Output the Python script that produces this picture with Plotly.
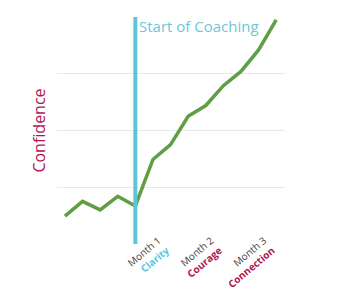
import plotly.graph_objects as go

steps = list(range(13))
confidence = [0.49, 0.75, 0.6, 0.84, 0.67, 1.49, 1.75, 2.25, 2.44, 2.79, 3.04, 3.42, 3.95]
tick_positions = [4, 7, 10]
tick_months = ["Month 1", "Month 2", "Month 3"]
tick_words = ["Clarity", "Courage", "Connection"]
tick_word_colors = ["#5BC5DB", "#B0154F", "#B0154F"]
coaching_start = 4

ticktext = [f"{m}<br><b><span style='color:{c}'>{w}</span></b>"
            for m, w, c in zip(tick_months, tick_words, tick_word_colors)]

fig = go.Figure()
fig.add_trace(go.Scatter(x=steps, y=confidence, mode="lines",
                         line=dict(color="#5E9E45", width=3.5), showlegend=False))

fig.add_shape(type="line", x0=coaching_start, x1=coaching_start, y0=0, y1=4,
              xref="x", yref="y", line=dict(color="#5BC5DB", width=4))
fig.add_annotation(x=coaching_start, y=4, xref="x", yref="y", text="Start of Coaching",
                   showarrow=False, xanchor="left", yanchor="top", xshift=2, yshift=3,
                   font=dict(color="#6EC6D8", size=15, family="Open Sans"))

fig.update_layout(
    width=341, height=290,
    margin=dict(l=57, r=56, t=17, b=46, autoexpand=False),
    paper_bgcolor="white", plot_bgcolor="white",
    font=dict(family="Open Sans", color="#444444"),
    xaxis=dict(range=[-0.45, 12.5], tickmode="array", tickvals=tick_positions,
               ticktext=ticktext, tickangle=-40, showgrid=False, zeroline=False,
               showline=False, automargin=False, ticklabelshift=23, ticklabelstandoff=-12,
               tickfont=dict(size=10, color="#444444")),
    yaxis=dict(range=[0, 4], tickvals=[0, 1, 2, 3, 4], showticklabels=False,
               showgrid=True, gridcolor="#E8E8E8", gridwidth=1, zeroline=False,
               automargin=False,
               title=dict(text="Confidence", font=dict(size=16, color="#B0154F"), standoff=6)),
)

fig.write_html("out.html")
